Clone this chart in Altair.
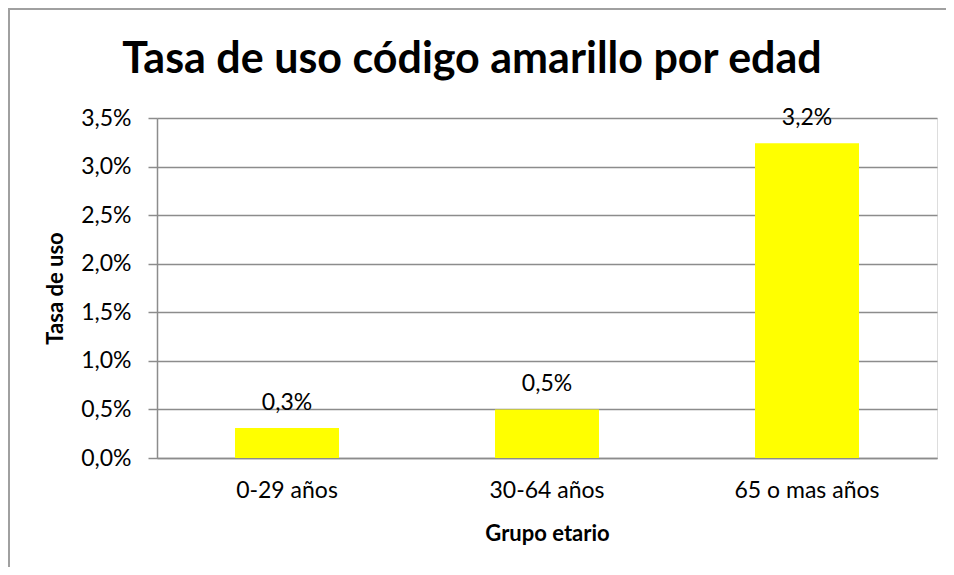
import altair as alt
import pandas as pd

categories = ["0-29 años", "30-64 años", "65 o mas años"]
values = [0.0031, 0.0050, 0.0324]
y_ticks = [0, 0.005, 0.01, 0.015, 0.02, 0.025, 0.03, 0.035]

df = pd.DataFrame({"grupo": categories, "tasa": values})

FONT = "Lato"
GRID = "#8c8c8c"

base = alt.Chart(df).encode(
    x=alt.X("grupo:N", sort=categories,
            scale=alt.Scale(paddingInner=0.6, paddingOuter=0.3),
            axis=alt.Axis(title="Grupo etario", labelAngle=0, ticks=False, tickSize=0,
                          labelPadding=21, titlePadding=21, domainColor=GRID,
                          domainWidth=1.5, labelFontSize=23, titleFontSize=22,
                          labelFont=FONT, titleFont=FONT, labelColor="#000", titleColor="#000",
                          titleFontWeight="bold", grid=False)),
)

bars = base.mark_bar(color="#ffff00").encode(
    y=alt.Y("tasa:Q", scale=alt.Scale(domain=[0, 0.035], nice=False),
            axis=alt.Axis(title="Tasa de uso", values=y_ticks,
                          labelExpr="replace(format(datum.value, '.1%'), '.', ',')",
                          tickSize=9, tickColor=GRID, tickWidth=1.5,
                          domainColor=GRID, domainWidth=1.5,
                          gridColor=GRID, gridWidth=1.5, labelPadding=17,
                          titlePadding=13, labelFontSize=23, titleFontSize=22,
                          labelFont=FONT, titleFont=FONT, labelColor="#000", titleColor="#000",
                          titleFontWeight="bold"))
)

labels = base.transform_calculate(
    lab="replace(format(datum.tasa, '.1%'), '.', ',')"
).mark_text(font=FONT, fontSize=23, color="#000", baseline="alphabetic", dy=-18).encode(
    y=alt.Y("tasa:Q"),
    text="lab:N",
)

frame_df = pd.DataFrame({"a": [0]})
frame = alt.Chart(frame_df).mark_rect(fill=None, stroke="#a0a0a0", strokeWidth=2).encode(
    x=alt.value(-148), x2=alt.value(1200),
    y=alt.value(-109), y2=alt.value(800),
)

chart = alt.layer(bars, labels, frame).properties(
    width=780, height=340,
    padding={"left": 149, "top": 110, "right": 9, "bottom": 109},
    autosize=alt.AutoSizeParams(type="none"),
    title=alt.Title("Tasa de uso código amarillo por edad", font=FONT, fontSize=43,
                    fontWeight="bold", color="#000", anchor="middle", dx=-75, offset=0,
                    baseline="alphabetic", dy=108),
).configure_view(stroke=None).configure(background="white")

chart.save("out.html", embed_options={"renderer": "svg", "actions": False})
